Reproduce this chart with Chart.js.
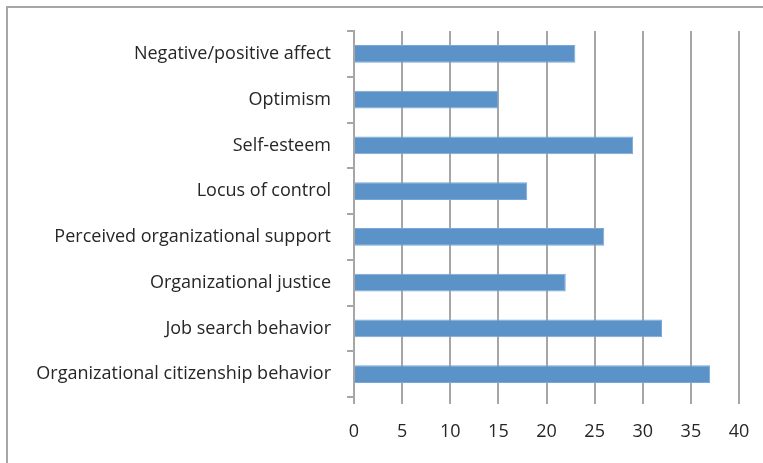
<!DOCTYPE html>
<html lang="en">
<head>
  <meta charset="UTF-8">
  <title>Bar chart</title>
  <script src="https://cdn.jsdelivr.net/npm/chart.js"></script>
  <style>
    html, body { margin: 0; padding: 0; background: #fff; }
    #wrap { position: relative; width: 763px; height: 463px; overflow: hidden; }
    #frame { position: absolute; left: 6px; top: 6px; width: 800px; height: 500px;
             border-top: 2px solid #a6a6a6; border-left: 2px solid #a6a6a6; }
    canvas { position: absolute; left: 0; top: 0; }
  </style>
</head>
<body>
  <div id="wrap">
    <div id="frame"></div>
    <canvas id="barChart" width="763" height="463"></canvas>
  </div>

  <script>
    const categories = [
      'Negative/positive affect',
      'Optimism',
      'Self-esteem',
      'Locus of control',
      'Perceived organizational support',
      'Organizational justice',
      'Job search behavior',
      'Organizational citizenship behavior'
    ];
    const values = [23, 15, 29, 18, 26, 22, 32, 37];
    const xTicks = [0, 5, 10, 15, 20, 25, 30, 35, 40];

    const gridColor = '#a6a6a6';
    const textColor = '#262626';
    const fontFamily = '"Open Sans", "Liberation Sans", sans-serif';

    const ctx = document.getElementById('barChart').getContext('2d');
    new Chart(ctx, {
      type: 'bar',
      data: {
        labels: categories,
        datasets: [{
          data: values,
          backgroundColor: '#5b93c9',
          borderColor: '#7aa8d6',
          borderWidth: 1,
          barPercentage: 0.39,
          categoryPercentage: 1
        }]
      },
      options: {
        indexAxis: 'y',
        responsive: false,
        animation: false,
        layout: { padding: { top: 31, right: 24, left: 0, bottom: 0 } },
        plugins: { legend: { display: false }, tooltip: { enabled: false } },
        scales: {
          x: {
            min: xTicks[0],
            max: xTicks[xTicks.length - 1],
            afterBuildTicks: axis => { axis.ticks = xTicks.map(v => ({ value: v })); },
            afterFit: axis => {
              axis.height = 66;
              axis.paddingLeft = 0;
              axis.paddingRight = 0;
            },
            grid: { color: gridColor, lineWidth: 2, tickLength: 7, drawTicks: true },
            border: { display: false },
            ticks: { color: textColor, padding: 17, font: { family: fontFamily, size: 18 } }
          },
          y: {
            afterFit: axis => { axis.width = 354; },
            grid: { offset: true, drawOnChartArea: false, color: gridColor, lineWidth: 2, tickLength: 7 },
            border: { color: gridColor, width: 2 },
            ticks: { color: textColor, padding: 16, font: { family: fontFamily, size: 18 } }
          }
        }
      }
    });
  </script>
</body>
</html>
